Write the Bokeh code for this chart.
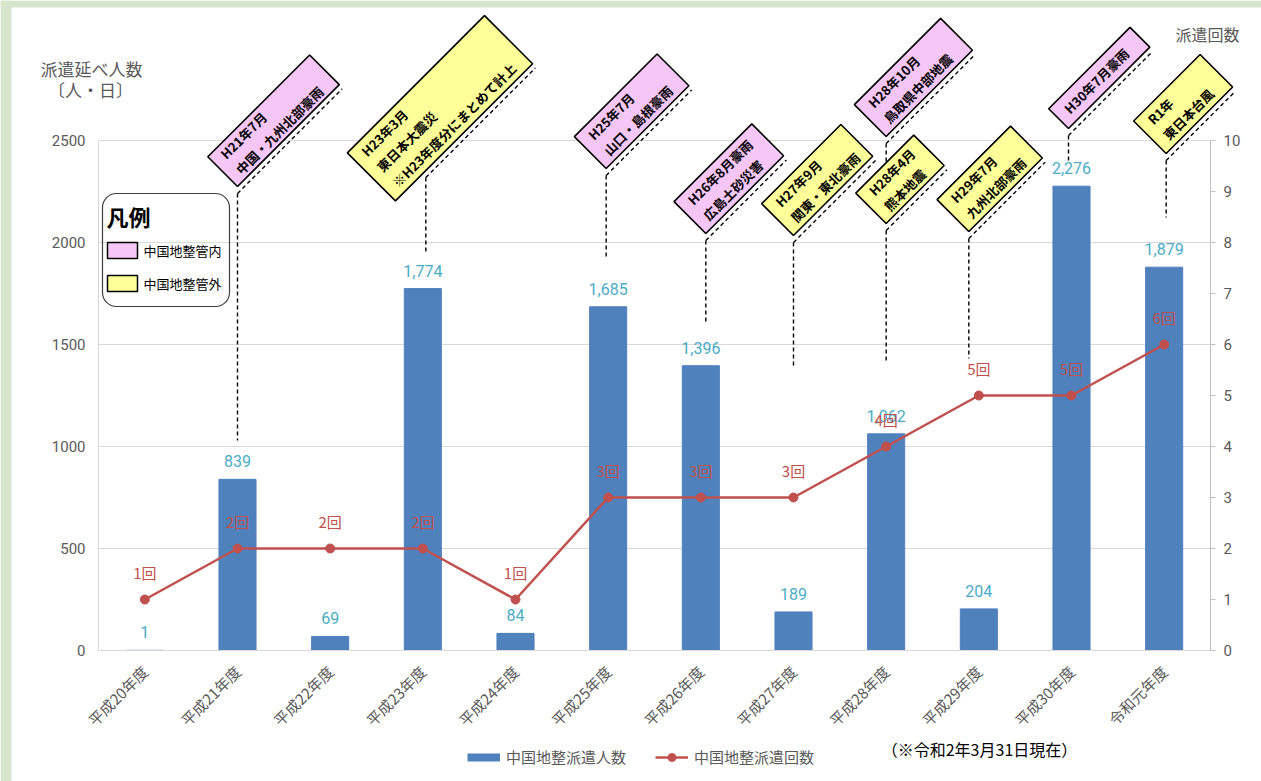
import math
from bokeh.plotting import figure
from bokeh.models import (Range1d, LinearAxis, FixedTicker, ColumnDataSource, LabelSet, Label,
                          Legend, LegendItem, PolyAnnotation, Arrow, BoxAnnotation)
from bokeh.core.properties import value
from bokeh.layouts import column
from bokeh.embed import file_html
from bokeh.resources import INLINE

# ---------------- data ----------------
categories = ["平成20年度", "平成21年度", "平成22年度", "平成23年度", "平成24年度", "平成25年度",
              "平成26年度", "平成27年度", "平成28年度", "平成29年度", "平成30年度", "令和元年度"]
staff_days = [1, 839, 69, 1774, 84, 1685, 1396, 189, 1062, 204, 2276, 1879]
dispatch_counts = [1, 2, 2, 2, 1, 3, 3, 3, 4, 5, 5, 6]
left_ticks = [0, 500, 1000, 1500, 2000, 2500]
right_ticks = [0, 1, 2, 3, 4, 5, 6, 7, 8, 9, 10]

# disaster callouts
callout_cats = [1, 3, 5, 6, 7, 8, 8, 9, 10, 11]
callout_texts = ["H21年7月\n中国・九州北部豪雨",
                 "H23年3月\n東日本大震災\n※H23年度分にまとめて計上",
                 "H25年7月\n山口・島根豪雨",
                 "H26年8月豪雨\n広島土砂災害",
                 "H27年9月\n関東・東北豪雨",
                 "H28年10月\n鳥取県中部地震",
                 "H28年4月\n熊本地震",
                 "H29年7月\n九州北部豪雨",
                 "H30年7月豪雨",
                 "R1年\n東日本台風"]
callout_inside = [True, False, True, True, False, True, False, False, True, False]

# ---------------- layout constants (page pixels) ----------------
W_PAGE, H_PAGE = 1261, 781
FL, FR, FT, FB = 98, 1210, 10, 650   # plot frame edges
Y2500 = 140
YS = (FB - Y2500) / 2500.0
Y_TOP = (FB - FT) / YS
XS = (FR - FL) / 12.0

def cat_px(i):
    return FL + (i + 0.5) * XS

GRAY = "#595959"
BLUE = "#4f81bd"
RED = "#c0504d"
TEAL = "#4bacc6"
PINK = "#f6c6f6"
YELLOW = "#ffff99"
GREEN_BG = "#d6e5cc"

# ================= main chart =================
p = figure(width=W_PAGE, height=H_PAGE, x_range=Range1d(-0.5, 11.5), y_range=Range1d(0, Y_TOP),
           output_backend="svg", toolbar_location=None,
           min_border_left=FL, min_border_right=W_PAGE - FR,
           min_border_top=FT, min_border_bottom=H_PAGE - FB)
p.frame_align = False
p.outline_line_color = None
p.background_fill_color = "white"
p.border_fill_color = "white"
p.extra_y_ranges = {"cnt": Range1d(0, Y_TOP / 250.0)}

ya = p.yaxis[0]
ya.ticker = FixedTicker(ticks=left_ticks)
ya.bounds = (0, 2500)
ya.axis_line_color = "#d9d9d9"
ya.major_tick_line_color = None
ya.major_tick_out = 0
ya.major_tick_in = 0
ya.minor_tick_line_color = None
ya.major_label_text_color = GRAY
ya.major_label_text_font = "Roboto"
ya.major_label_text_font_size = "15px"
ya.major_label_standoff = 13

ra = LinearAxis(y_range_name="cnt", ticker=FixedTicker(ticks=right_ticks), bounds=(0, 10))
ra.axis_line_color = "#bfbfbf"
ra.major_tick_line_color = "#bfbfbf"
ra.major_tick_out = 5
ra.major_tick_in = 0
ra.minor_tick_line_color = None
ra.major_label_text_color = GRAY
ra.major_label_text_font = "Roboto"
ra.major_label_text_font_size = "15px"
ra.major_label_standoff = 8
p.add_layout(ra, "right")

xa = p.xaxis[0]
xa.ticker = FixedTicker(ticks=list(range(len(categories))))
xa.major_label_overrides = {i: c for i, c in enumerate(categories)}
xa.major_label_orientation = math.pi / 4
xa.axis_line_color = "#d9d9d9"
xa.major_tick_line_color = None
xa.major_tick_out = 0
xa.major_tick_in = 0
xa.minor_tick_line_color = None
xa.major_label_text_color = GRAY
xa.major_label_text_font = "Noto Sans CJK JP"
xa.major_label_text_font_size = "15px"
xa.major_label_standoff = 18

p.xgrid.visible = False
p.ygrid.ticker = FixedTicker(ticks=left_ticks)
p.ygrid.grid_line_color = "#d9d9d9"

src = ColumnDataSource(dict(
    x=list(range(len(categories))),
    staff=staff_days,
    cnt=dispatch_counts,
    staff_lbl=[f"{v:,}" for v in staff_days],
    cnt_lbl=[f"{c}回" for c in dispatch_counts],
))

bars = p.vbar(x="x", top="staff", width=0.4, source=src, color=BLUE)
ln = p.line(x="x", y="cnt", source=src, y_range_name="cnt", line_color=RED, line_width=2.5)
pts = p.scatter(x="x", y="cnt", source=src, y_range_name="cnt", size=9, color=RED)

p.add_layout(LabelSet(x="x", y="staff", text="staff_lbl", source=src, text_align="center",
                      text_baseline="bottom", y_offset=12, text_color=TEAL,
                      text_font=value("Roboto"), text_font_size="16px"))
p.add_layout(LabelSet(x="x", y="cnt", text="cnt_lbl", source=src, y_range_name="cnt",
                      text_align="center", text_baseline="bottom", y_offset=17, text_color=RED,
                      text_font=value("Noto Sans CJK JP"), text_font_size="15px"))

# ================= overlay (page-pixel coordinates) for notes and callouts =================
q = figure(width=W_PAGE, height=H_PAGE, x_range=Range1d(0, W_PAGE), y_range=Range1d(H_PAGE, 0),
           output_backend="svg", toolbar_location=None, min_border=0,
           x_axis_location=None, y_axis_location=None, margin=(-H_PAGE, 0, 0, 0))
q.frame_align = False
q.grid.visible = False
q.outline_line_color = None
q.background_fill_alpha = 0
q.border_fill_alpha = 0

# green page frame
q.quad(left=[0, 0], right=[11, W_PAGE], top=[0, 0], bottom=[H_PAGE, 7],
       fill_color=GREEN_BG, line_color=None)

def add_label(px, py, text, size, color=GRAY, align="center", style="normal", angle=0.0,
              font="Noto Sans CJK JP", baseline="middle", line_height=1.2):
    q.add_layout(Label(x=px, y=py, text=text, text_align=align, text_baseline=baseline,
                       text_font=font, text_font_size=size, text_color=color,
                       text_font_style=style, angle=angle, text_line_height=line_height))

add_label(91, 68, "派遣延べ人数", "17px")
add_label(90, 89, "〔人・日〕", "17px")
add_label(1207, 33, "派遣回数", "16px")
add_label(979, 748, "（※令和2年3月31日現在）", "16px", color="black")

# 凡例 box
q.add_layout(BoxAnnotation(left=102, right=229, top=193, bottom=306, fill_alpha=0,
                           line_color="#404040", line_alpha=1, line_width=1.2, border_radius=14))
add_label(106, 215, "凡例", "22px", color="black", align="left", style="bold")
q.add_layout(BoxAnnotation(left=107, right=137, top=242, bottom=258, fill_color=PINK,
                           fill_alpha=1, line_color="black", line_alpha=1, line_width=1.5))
q.add_layout(BoxAnnotation(left=107, right=137, top=275, bottom=291, fill_color=YELLOW,
                           fill_alpha=1, line_color="black", line_alpha=1, line_width=1.5))
add_label(143, 250, "中国地整管内", "13px", color="black", align="left")
add_label(143, 283, "中国地整管外", "13px", color="black", align="left")

# bottom series legend: proxies carry the series styles (NaN data, nothing drawn on the chart)
nan = float("nan")
lg_bar = q.line(x=[nan], y=[nan], line_color=BLUE, line_width=8, line_cap="butt")
lg_line = q.line(x=[nan], y=[nan], line_color=RED, line_width=2.5)
lg_pts = q.scatter(x=[nan], y=[nan], size=9, color=RED)
legend = Legend(items=[LegendItem(label="中国地整派遣人数", renderers=[lg_bar]),
                       LegendItem(label="中国地整派遣回数", renderers=[lg_line, lg_pts])],
                location=(467, H_PAGE - 767), orientation="horizontal",
                border_line_color=None, background_fill_alpha=0, padding=0, margin=0,
                glyph_width=33, glyph_height=20, label_height=20, label_standoff=6, spacing=29,
                label_text_font="Noto Sans CJK JP", label_text_font_size="15px",
                label_text_color=GRAY)
q.add_layout(legend)

# callouts: x offset, anchor top y, vertical bottom y, box length, box width, box shift
callout_geom = [
    (0, 193, 440, 144, 42, 0),
    (3, 177, 253, 194, 68, 43),
    (-2, 175, 258, 117, 45, 0),
    (5, 240, 323, 110, 45, 0),
    (0, 242, 368, 112, 45, 0),
    (0, 143, 200, 122, 45, 0),
    (0, 230, 360, 82, 43, 0),
    (-10, 238, 358, 104, 45, 0),
    (-3, 135, 160, 115, 28, 0),
    (2, 160, 217, 94, 46, 0),
]
c = math.sqrt(0.5)
for i, txt, inside, (off, ay, by, L, Wd, s0) in zip(callout_cats, callout_texts, callout_inside,
                                                   callout_geom):
    ax = cat_px(i) + off
    q.add_layout(Arrow(x_start=ax, y_start=ay, x_end=ax, y_end=by, end=None,
                       line_color="black", line_width=1.4, line_dash="4 3"))
    d = L - s0 + 4
    q.add_layout(Arrow(x_start=ax, y_start=ay, x_end=ax + d * c, y_end=ay - d * c, end=None,
                       line_color="black", line_width=1.4, line_dash="4 3"))
    bx = ax - s0 * c
    byy = ay + s0 * c - 7
    xs = [bx, bx + L * c, bx + L * c - Wd * c, bx - Wd * c]
    ys = [byy, byy - L * c, byy - L * c - Wd * c, byy - Wd * c]
    q.add_layout(PolyAnnotation(xs=xs, ys=ys, fill_color=PINK if inside else YELLOW,
                                fill_alpha=1, line_color="black", line_alpha=1, line_width=1.6))
    pad = 11
    tx = bx + pad * c - (Wd / 2) * c
    ty = byy - pad * c - (Wd / 2) * c
    q.add_layout(Label(x=tx, y=ty, text=txt, text_align="left", text_baseline="middle",
                       angle=math.pi / 4, text_font="Noto Sans CJK JP", text_font_size="13px",
                       text_font_style="bold", text_color="black", text_line_height=1.15))

layout = column(p, q)
open("out.html", "w").write(file_html(layout, INLINE))
